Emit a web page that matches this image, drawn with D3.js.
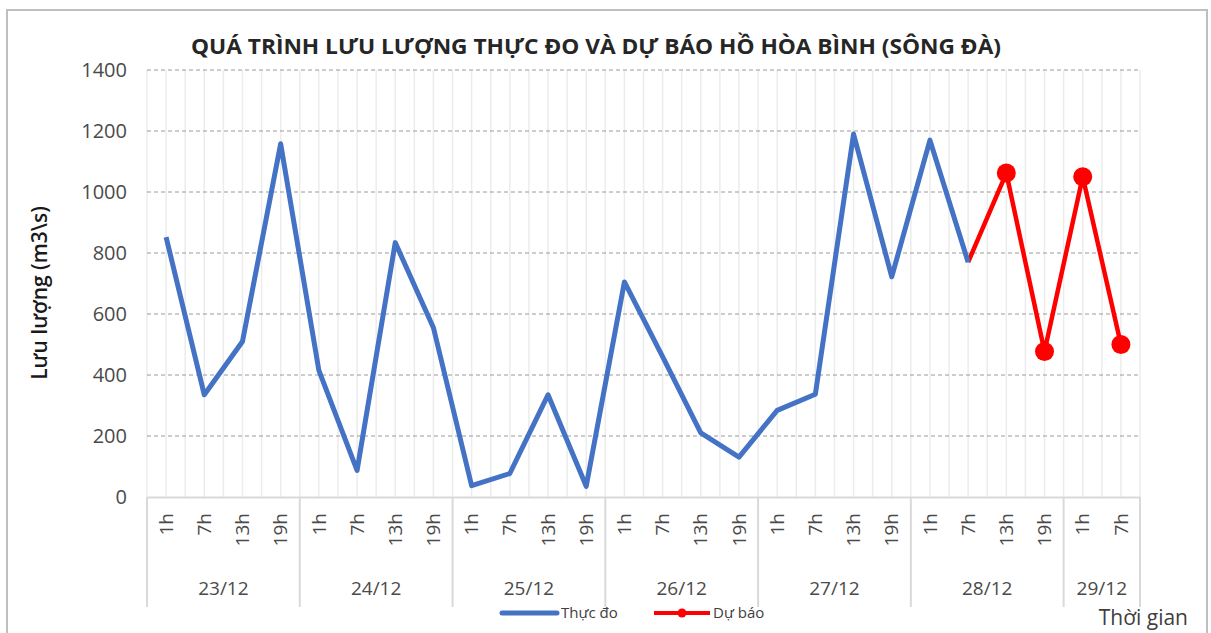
<!DOCTYPE html>
<html>
<head>
<meta charset="utf-8">
<script src="https://cdn.jsdelivr.net/npm/d3@7"></script>
<style>
  body { margin: 0; background: #fff; }
  text { font-family: "Open Sans", "Noto Sans", sans-serif; }
</style>
</head>
<body>
<script>
// data
const days = ["23/12", "24/12", "25/12", "26/12", "27/12", "28/12", "29/12"];
const hours = [
  "1h", "7h", "13h", "19h", "1h", "7h", "13h", "19h", "1h", "7h", "13h", "19h",
  "1h", "7h", "13h", "19h", "1h", "7h", "13h", "19h", "1h", "7h", "13h", "19h",
  "1h", "7h"
];
const dayOf = [
  0, 0, 0, 0, 1, 1, 1, 1, 2, 2, 2, 2, 3, 3, 3, 3, 4, 4, 4, 4, 5, 5, 5, 5, 6, 6
];
const observed = [
  852, 335, 510, 1158, 415, 87, 834, 555, 37, 77, 335, 35,
  705, 460, 210, 131, 284, 337, 1190, 722, 1170, 770, null, null, null, null
];
const forecast = [
  null, null, null, null, null, null, null, null, null, null, null, null,
  null, null, null, null, null, null, null, null, null, 770, 1062, 477, 1050, 500
];
const yTicks = [0, 200, 400, 600, 800, 1000, 1200, 1400];

const W = 1211, H = 633;
const margin = { top: 70, right: 71, bottom: 136, left: 147 },
  width = W - margin.left - margin.right,
  height = H - margin.top - margin.bottom;

const svg = d3.select("body").append("svg")
  .attr("width", W)
  .attr("height", H);

// outer chart frame
svg.append("rect")
  .attr("x", 7).attr("y", 10)
  .attr("width", 1200).attr("height", 640)
  .attr("fill", "#fff")
  .attr("stroke", "#bfbfbf")
  .attr("stroke-width", 2);

const g = svg.append("g")
  .attr("transform", `translate(${margin.left},${margin.top})`);

const idx = d3.range(hours.length);
const x = d3.scaleBand().domain(idx).range([0, width]);
const y = d3.scaleLinear().domain([0, 1400]).range([height, 0]);
const bw = x.bandwidth();

// light vertical grid lines at every half category
g.append("g")
  .selectAll("line")
  .data(d3.range(hours.length * 2 + 1))
  .join("line")
  .attr("x1", d => d * bw / 2)
  .attr("x2", d => d * bw / 2)
  .attr("y1", 0)
  .attr("y2", height)
  .attr("stroke", "#ececec")
  .attr("stroke-width", 1.5);

// dashed horizontal grid lines
g.append("g")
  .selectAll("line")
  .data(yTicks.filter(d => d > 0))
  .join("line")
  .attr("x1", 0).attr("x2", width)
  .attr("y1", d => y(d)).attr("y2", d => y(d))
  .attr("stroke", "#9a9a9a")
  .attr("stroke-dasharray", "4,3")
  .attr("stroke-width", 1);

// y-axis
g.append("g")
  .call(d3.axisLeft(y).tickValues(yTicks).tickFormat(d3.format("d")).tickSize(0).tickPadding(20))
  .call(a => a.select(".domain").remove())
  .call(a => a.selectAll("text")
    .attr("fill", "#4a4a4a")
    .style("font-size", "20px")
    .style("font-family", "'Open Sans', sans-serif"));

// x-axis: hours
g.append("g")
  .attr("transform", `translate(0,${height})`)
  .call(d3.axisBottom(x).tickFormat(i => hours[i]).tickSize(0))
  .call(a => a.select(".domain").attr("stroke", "#d9d9d9").attr("stroke-width", 2))
  .call(a => a.selectAll("text")
    .attr("transform", "rotate(-90)")
    .attr("text-anchor", "end")
    .attr("x", -16)
    .attr("y", 0)
    .attr("dy", "0.35em")
    .attr("fill", "#4a4a4a")
    .style("font-size", "19px")
    .style("font-family", "'Open Sans', sans-serif"));

// day groups
const dayStart = days.map((d, k) => dayOf.indexOf(k));
const dayEnd = days.map((d, k) => dayOf.lastIndexOf(k) + 1);
g.append("g")
  .selectAll("line")
  .data(d3.range(days.length + 1))
  .join("line")
  .attr("x1", k => k < days.length ? x(dayStart[k]) : width)
  .attr("x2", k => k < days.length ? x(dayStart[k]) : width)
  .attr("y1", height)
  .attr("y2", height + 110)
  .attr("stroke", "#d9d9d9")
  .attr("stroke-width", 2);

g.append("g")
  .selectAll("text")
  .data(days)
  .join("text")
  .attr("x", (d, k) => (x(dayStart[k]) + (dayEnd[k] < hours.length ? x(dayEnd[k]) : width)) / 2)
  .attr("y", height + 98)
  .attr("text-anchor", "middle")
  .attr("fill", "#4a4a4a")
  .style("font-size", "19px")
  .text(d => d);

// lines
const line = d3.line()
  .defined(d => d != null)
  .x((d, i) => x(i) + bw / 2)
  .y(d => y(d));

g.append("path")
  .datum(forecast)
  .attr("fill", "none")
  .attr("stroke", "#ff0000")
  .attr("stroke-width", 4.5)
  .attr("stroke-linejoin", "round")
  .attr("d", line);

g.append("path")
  .datum(observed)
  .attr("fill", "none")
  .attr("stroke", "#4472c4")
  .attr("stroke-width", 5)
  .attr("stroke-linejoin", "round")
  .attr("d", line);

g.append("g")
  .selectAll("circle")
  .data(forecast.map((v, i) => ({ v, i })).filter(d => d.v != null && d.i > 21))
  .join("circle")
  .attr("cx", d => x(d.i) + bw / 2)
  .attr("cy", d => y(d.v))
  .attr("r", 9.5)
  .attr("fill", "#ff0000");

// title
svg.append("text")
  .attr("x", 596)
  .attr("y", 54)
  .attr("text-anchor", "middle")
  .attr("fill", "#262626")
  .style("font-size", "21px")
  .style("font-weight", "bold")
  .attr("textLength", 810)
  .attr("lengthAdjust", "spacingAndGlyphs")
  .text("QUÁ TRÌNH LƯU LƯỢNG THỰC ĐO VÀ DỰ BÁO HỒ HÒA BÌNH (SÔNG ĐÀ)");

// y title
svg.append("text")
  .attr("transform", "translate(47,293) rotate(-90)")
  .attr("text-anchor", "middle")
  .attr("fill", "#1a1a1a")
  .style("font-size", "21px")
  .style("font-weight", 600)
  .text("Lưu lượng (m3\\s)");

// x title
svg.append("text")
  .attr("x", 1188)
  .attr("y", 625)
  .attr("text-anchor", "end")
  .attr("fill", "#404040")
  .style("font-size", "21px")
  .text("Thời gian");

// legend
const legend = svg.append("g").attr("transform", "translate(502,613)");
legend.append("line")
  .attr("x1", 0).attr("x2", 55).attr("y1", 0).attr("y2", 0)
  .attr("stroke", "#4472c4").attr("stroke-width", 5).attr("stroke-linecap", "round");
legend.append("text")
  .attr("x", 59).attr("y", 0).attr("dy", "0.35em")
  .attr("fill", "#404040").style("font-size", "15px")
  .text("Thực đo");
legend.append("line")
  .attr("x1", 152).attr("x2", 208).attr("y1", 0).attr("y2", 0)
  .attr("stroke", "#ff0000").attr("stroke-width", 4);
legend.append("circle")
  .attr("cx", 180).attr("cy", 0).attr("r", 4.5).attr("fill", "#ff0000");
legend.append("text")
  .attr("x", 211).attr("y", 0).attr("dy", "0.35em")
  .attr("fill", "#404040").style("font-size", "15px")
  .text("Dự báo");
</script>
</body>
</html>
